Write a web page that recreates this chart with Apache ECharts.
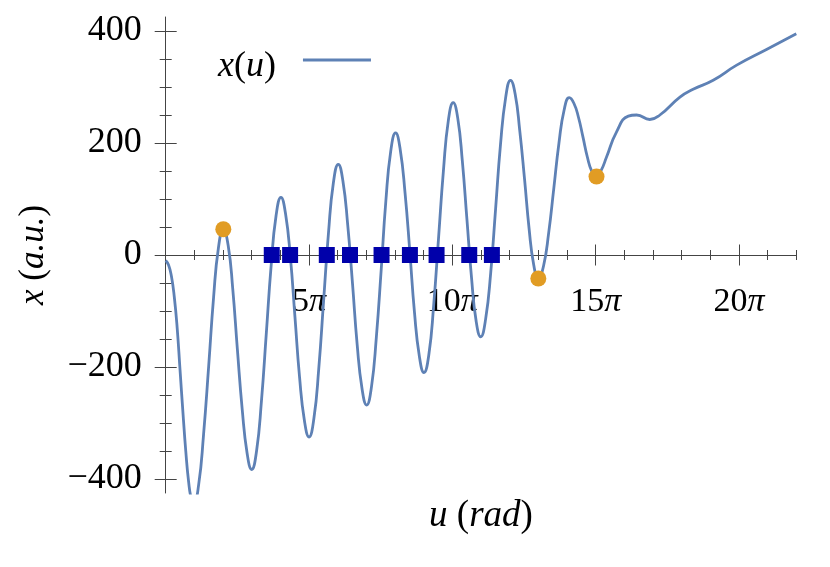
<!DOCTYPE html>
<html>
<head>
<meta charset="utf-8">
<script src="https://cdn.jsdelivr.net/npm/echarts@6/dist/echarts.min.js"></script>
<style>
  html, body { margin: 0; padding: 0; background: #fff; }
  #chart { width: 830px; height: 567px; }
</style>
</head>
<body>
<div id="chart"></div>
<script>
// u is given in units of pi
const curveU = [
  0, 0.1, 0.2, 0.3, 0.4, 0.5, 0.6, 0.7, 0.8, 0.9, 0.98,
  1.15, 1.32, 1.5, 1.67, 1.84, 2.01,
  2.18, 2.34, 2.5, 2.67, 2.84, 3.0,
  3.17, 3.34, 3.51, 3.68, 3.85, 4.02,
  4.18, 4.35, 4.51, 4.67, 4.84, 5.0,
  5.17, 5.34, 5.51, 5.68, 5.85, 6.02,
  6.18, 6.35, 6.52, 6.68, 6.85, 7.01,
  7.18, 7.35, 7.52, 7.68, 7.85, 8.02,
  8.18, 8.35, 8.52, 8.68, 8.85, 9.01,
  9.18, 9.35, 9.52, 9.69, 9.86, 10.03,
  10.19, 10.35, 10.51, 10.67, 10.83, 10.99,
  11.16, 11.34, 11.51, 11.68, 11.86, 12.03,
  12.19, 12.35, 12.52, 12.68, 12.84, 13.0,
  13.18, 13.36, 13.54, 13.72, 13.9, 14.08,
  14.24, 14.4, 14.56, 14.71, 14.87, 15.03,
  15.2, 15.38, 15.73, 16.14, 16.43, 16.89, 17.24, 17.94, 18.4, 19.1, 19.92, 20.96, 22.0
];
const curveX = [
  -10, -18, -38, -75, -130, -205, -280, -350, -405, -437, -443,
  -410, -321, -198, -76, 13, 46,
  17, -61, -168, -276, -354, -383,
  -350, -261, -140, -18, 70, 103,
  74, -4, -111, -218, -296, -325,
  -292, -203, -81, 40, 129, 162,
  133, 54, -53, -160, -239, -268,
  -235, -146, -25, 96, 185, 218,
  189, 111, 4, -103, -181, -210,
  -178, -89, 31, 151, 240, 272,
  244, 167, 63, -41, -118, -146,
  -115, -31, 83, 197, 281, 312,
  288, 223, 135, 46, -18, -42,
  -20, 39, 119, 200, 259, 281,
  271, 246, 210, 175, 149, 140,
  152, 175, 220, 248, 250, 242, 250, 282, 296, 312, 339, 367, 395
];
const dotU = [2.01, 13.0, 15.03];
const dotX = [46, -42, 140];
const rootU = [3.70, 4.34, 5.62, 6.43, 7.53, 8.52, 9.45, 10.59, 11.38];
const rootX = [0, 0, 0, 0, 0, 0, 0, 0, 0];

const xMinorTicks = [1, 2, 3, 4, 5, 6, 7, 8, 9, 10, 11, 12, 13, 14, 15, 16, 17, 18, 19, 20, 21, 22];
const xMajorTicks = [5, 10, 15, 20];
const yMinorTicks = [-400, -350, -300, -250, -200, -150, -100, -50, 0, 50, 100, 150, 200, 250, 300, 350, 400];
const yMajorTicks = [-400, -200, 0, 200, 400];

const FONT = 'Liberation Serif';
const AXIS_COLOR = '#444';
const txt = (size, it) => ({ fontFamily: FONT, fontSize: size, color: '#000', fontStyle: it ? 'italic' : 'normal' });

const chart = echarts.init(document.getElementById('chart'));

// extra axes that only draw ticks, so ticks can cross the axis line
const tickAxis = (values, len, inside, extra) => Object.assign({
  type: 'value',
  axisLine: { show: false, onZero: true },
  axisTick: { show: true, customValues: values, length: len, inside: inside, lineStyle: { color: AXIS_COLOR } },
  axisLabel: { show: false },
  splitLine: { show: false },
}, extra);

const xRange = { min: 0, max: 22, position: 'bottom' };
const yRange = { min: -425, max: 425, position: 'left' };

const option = {
  animation: false,
  backgroundColor: '#fff',
  grid: { left: 165.7, right: 33.7, top: 17, bottom: 74, outerBoundsMode: 'none' },
  legend: {
    data: [{ name: 'x(u)', icon: 'rect' }],
    left: 213,
    top: 44,
    align: 'right',
    itemWidth: 68,
    itemHeight: 3,
    itemStyle: { color: '#5E81B5' },
    formatter: () => '{i|x}({i|u}){g|}',
    textStyle: {
      ...txt(36),
      padding: [14, 0, 0, 0],
      rich: { i: txt(36, true), g: { width: 22 } },
    },
  },
  xAxis: [
    {
      type: 'value', ...xRange,
      axisLine: { show: true, onZero: true, lineStyle: { color: AXIS_COLOR, width: 1 } },
      axisTick: { show: true, customValues: xMinorTicks, length: 5, lineStyle: { color: AXIS_COLOR } },
      axisLabel: {
        customValues: xMajorTicks,
        margin: -208,
        ...txt(34),
        formatter: v => v + '{p|π}',
        rich: { p: txt(34, true) },
      },
      splitLine: { show: false },
    },
    tickAxis(xMinorTicks, 5, true, xRange),
    tickAxis(xMajorTicks, 10.5, false, xRange),
    tickAxis(xMajorTicks, 10.5, true, xRange),
    {
      type: 'value', ...xRange,
      axisLine: { show: false, onZero: false },
      axisTick: { show: false },
      axisLabel: { show: false },
      splitLine: { show: false },
      name: '{i|u} ({i|rad})',
      nameLocation: 'middle',
      nameGap: 5,
      nameTextStyle: { ...txt(37), rich: { i: txt(37, true) } },
    },
  ],
  yAxis: [
    {
      type: 'value', ...yRange,
      axisLine: { show: true, onZero: true, lineStyle: { color: AXIS_COLOR, width: 1 } },
      axisTick: { show: true, customValues: yMinorTicks, length: 6, lineStyle: { color: AXIS_COLOR } },
      axisLabel: {
        customValues: yMajorTicks,
        margin: 24,
        ...txt(36),
        padding: [0, 0, 8, 0],
        formatter: v => (v < 0 ? '\u2212' + Math.abs(v) : String(v)),
      },
      splitLine: { show: false },
      name: '{i|x} ({i|a.u.})',
      nameLocation: 'middle',
      nameGap: 114,
      nameTextStyle: { ...txt(35), rich: { i: txt(35, true) } },
    },
    tickAxis(yMinorTicks, 6, true, yRange),
    tickAxis(yMajorTicks, 11, false, yRange),
    tickAxis(yMajorTicks, 11, true, yRange),
  ],
  series: [
    {
      name: 'x(u)',
      type: 'line',
      data: curveU.map((u, i) => [u, curveX[i]]),
      smooth: true,
      symbol: 'none',
      clip: true,
      lineStyle: { color: '#5E81B5', width: 2.8 },
      itemStyle: { color: '#5E81B5' },
      z: 2,
    },
    {
      name: 'extrema',
      type: 'scatter',
      data: dotU.map((u, i) => [u, dotX[i]]),
      symbol: 'circle',
      symbolSize: 16,
      itemStyle: { color: '#E19C24', opacity: 1 },
      z: 3,
    },
    {
      name: 'roots',
      type: 'scatter',
      data: rootU.map((u, i) => [u, rootX[i]]),
      symbol: 'rect',
      symbolSize: 16,
      itemStyle: { color: '#0000AA', opacity: 1 },
      z: 4,
    },
  ],
};

chart.setOption(option);
window.addEventListener('resize', chart.resize);
</script>
</body>
</html>
